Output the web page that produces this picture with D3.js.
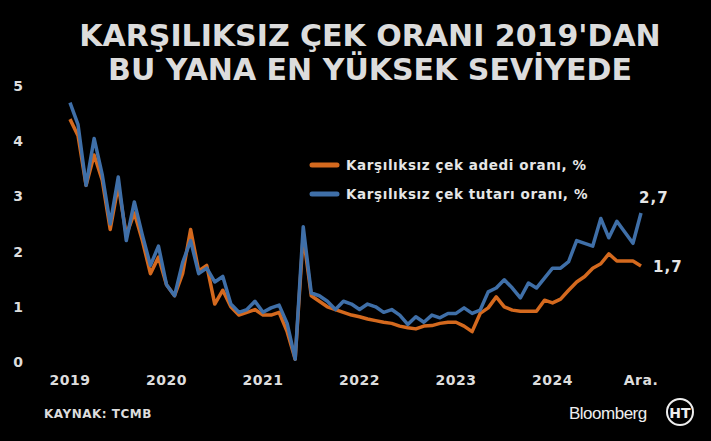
<!DOCTYPE html><html><head><meta charset="utf-8"><script src="https://cdn.jsdelivr.net/npm/d3@7"></script>
<style>body{margin:0;background:#000}svg{display:block}</style></head><body><svg width="711" height="441"></svg><script>
const adedi=[4.4,4.1,3.2,3.75,3.3,2.4,3.2,2.3,2.7,2.2,1.6,1.9, 1.4,1.2,1.6,2.4,1.65,1.75,1.05,1.3,1.0,0.85,0.9,0.95, 0.85,0.85,0.9,0.55,0.05,2.3,1.2,1.1,1.0,0.95,0.9,0.85, 0.82,0.78,0.75,0.72,0.7,0.65,0.62,0.6,0.65,0.66,0.7,0.72, 0.72,0.65,0.55,0.88,0.98,1.18,1.0,0.94,0.92,0.92,0.92,1.12, 1.07,1.14,1.3,1.45,1.55,1.7,1.78,1.96,1.83,1.83,1.83,1.74];
const tutari=[4.7,4.3,3.2,4.05,3.4,2.5,3.35,2.2,2.9,2.3,1.75,2.1, 1.4,1.2,1.8,2.2,1.6,1.7,1.45,1.55,1.05,0.9,0.95,1.1, 0.9,0.98,1.03,0.7,0.05,2.45,1.25,1.2,1.1,0.95,1.1,1.05, 0.95,1.05,1.0,0.9,0.95,0.85,0.68,0.82,0.72,0.85,0.8,0.88, 0.88,0.98,0.88,0.94,1.27,1.34,1.49,1.34,1.16,1.43,1.34,1.52, 1.7,1.7,1.82,2.2,2.15,2.1,2.6,2.25,2.55,2.35,2.15,2.7];
const xTicks=[["2019",0],["2020",12],["2021",24],["2022",36],["2023",48],["2024",60],["Ara.",71]];
const yTicks=[0,1,2,3,4,5];
const svg=d3.select("svg");
const x=d3.scaleLinear().domain([0,71]).range([70,641]);
const y=d3.scaleLinear().domain([0,5]).range([362,86]);
const V="'DejaVu Sans',Verdana,sans-serif";
svg.append("text").attr("x",370).attr("y",46).attr("text-anchor","middle").attr("fill","#dcdcdc").attr("font-family",V).attr("font-weight","bold").attr("font-size",30).text("KARŞILIKSIZ ÇEK ORANI 2019'DAN");
svg.append("text").attr("x",370).attr("y",80).attr("text-anchor","middle").attr("fill","#dcdcdc").attr("font-family",V).attr("font-weight","bold").attr("font-size",30).text("BU YANA EN YÜKSEK SEVİYEDE");
svg.selectAll(".yt").data(yTicks).join("text").attr("x",18).attr("y",d=>y(d)+5).attr("text-anchor","middle").attr("fill","#ddd").attr("font-family",V).attr("font-weight","bold").attr("font-size",14).text(d=>d);
svg.selectAll(".xt").data(xTicks).join("text").attr("x",d=>x(d[1])).attr("y",385).attr("text-anchor","middle").attr("fill","#ddd").attr("font-family",V).attr("font-weight","bold").attr("font-size",14).attr("letter-spacing",0.5).text(d=>d[0]);
const line=d3.line().x((d,i)=>x(i)).y(d=>y(d));
svg.append("path").attr("d",line(adedi)).attr("fill","none").attr("stroke","#d4691e").attr("stroke-width",3.5).attr("stroke-linejoin","round");
svg.append("path").attr("d",line(tutari)).attr("fill","none").attr("stroke","#3f6fa8").attr("stroke-width",3.5).attr("stroke-linejoin","round");
const leg=[["Karşılıksız çek adedi oranı, %","#d4691e",165],["Karşılıksız çek tutarı oranı, %","#3f6fa8",194]];
leg.forEach(l=>{svg.append("line").attr("x1",312).attr("x2",337).attr("y1",l[2]).attr("y2",l[2]).attr("stroke",l[1]).attr("stroke-width",5).attr("stroke-linecap","round");
svg.append("text").attr("x",346).attr("y",l[2]+5).attr("fill","#e6e6e6").attr("font-family",V).attr("font-weight","bold").attr("font-size",13.5).attr("letter-spacing",0.6).text(l[0]);});
svg.append("text").attr("x",x(71)-2).attr("y",y(tutari[71])-10).attr("fill","#e6e6e6").attr("font-family",V).attr("font-weight","bold").attr("font-size",15).attr("letter-spacing",1).text("2,7");
svg.append("text").attr("x",x(71)+12).attr("y",y(adedi[71])+6).attr("fill","#e6e6e6").attr("font-family",V).attr("font-weight","bold").attr("font-size",15).attr("letter-spacing",1).text("1,7");
svg.append("text").attr("x",44).attr("y",418).attr("fill","#ddd").attr("font-family",V).attr("font-weight","bold").attr("font-size",12).attr("letter-spacing",0.5).text("KAYNAK: TCMB");
svg.append("text").attr("x",569).attr("y",419).attr("fill","#eee").attr("font-family","'Liberation Sans',Arial,sans-serif").attr("font-size",17).attr("letter-spacing",-0.5).text("Bloomberg");
svg.append("circle").attr("cx",680).attr("cy",412).attr("r",13).attr("fill","none").attr("stroke","#eee").attr("stroke-width",2);
svg.append("text").attr("x",680).attr("y",418).attr("text-anchor","middle").attr("fill","#eee").attr("font-family",V).attr("font-weight","bold").attr("font-size",14).text("HT");
</script></body></html>
